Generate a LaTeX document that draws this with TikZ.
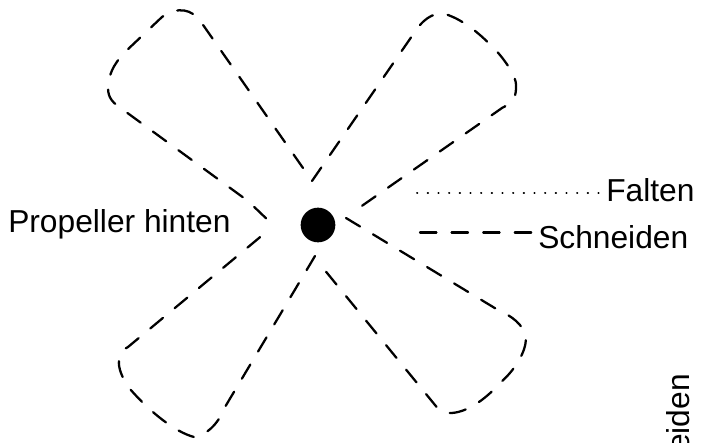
\documentclass[tikz,border=0pt]{standalone}
\usepackage{fontspec}
\setmainfont{Liberation Sans}
\usetikzlibrary{positioning}

\begin{document}
\begin{tikzpicture}[x=0.75pt,y=-0.75pt,line cap=round]
    \tikzstyle{cutline}=[line width=1.7pt,dash pattern=on 12.3pt off 11.4pt]
    \tikzstyle{foldline}=[line width=1.5pt,dash pattern=on 0.3pt off 7.7pt]
    \tikzstyle{hub}=[shape=circle,fill=black,inner sep=0pt,minimum size=26pt]
    \tikzstyle{label}=[inner sep=0pt,font=\fontsize{23.8}{24}\selectfont]

    \useasboundingbox (0,0) rectangle (701,443);

    \node[hub] (H) at (318,225) {};
    \node[label,anchor=base west] (P) at (8,232) {Propeller hinten};
    \node[label,anchor=base west] (F) at (606,201) {Falten};
    \node[label,anchor=base west] (S) at (538,248) {Schneiden};
    \node[label,anchor=base east,rotate=90] (R) at (689,374) {eiden};
    \coordinate (F0) at (417,192.5);
    \coordinate (S0) at (420,232.5);

    \draw[foldline] (F0) -- (F.west |- F0);
    \draw[cutline] (S0) -- (S.west |- S0);

    % blades
    \draw[cutline] (303,168) -- (201,22) .. controls (192,9) and (178,6) .. (162,17)
      -- (125,52) .. controls (112,66) and (109,75) .. (108,88)
      .. controls (108,98) and (113,103) .. (122,109) -- (248,201) -- (272,224);
    \draw[cutline] (312,181) -- (412,36) .. controls (422,20) and (432,12) .. (445,14)
      .. controls (465,20) and (485,38) .. (500,55) .. controls (512,70) and (517,80) .. (516,88)
      .. controls (516,98) and (512,103) .. (502,108) -- (356,210);
    \draw[cutline] (346,218) -- (498,310) .. controls (512,316) and (524,325) .. (526,338)
      .. controls (526,352) and (515,370) .. (500,383) .. controls (485,400) and (465,414) .. (448,413)
      .. controls (441,412) and (438,409) .. (435,405) -- (323,268);
    \draw[cutline] (315,256) -- (225,407) .. controls (218,425) and (205,436) .. (194,437)
      .. controls (175,432) and (150,412) .. (130,389) .. controls (122,378) and (118,368) .. (119,360)
      .. controls (120,352) and (124,349) .. (128,347) -- (265,233);
\end{tikzpicture}
\end{document}
